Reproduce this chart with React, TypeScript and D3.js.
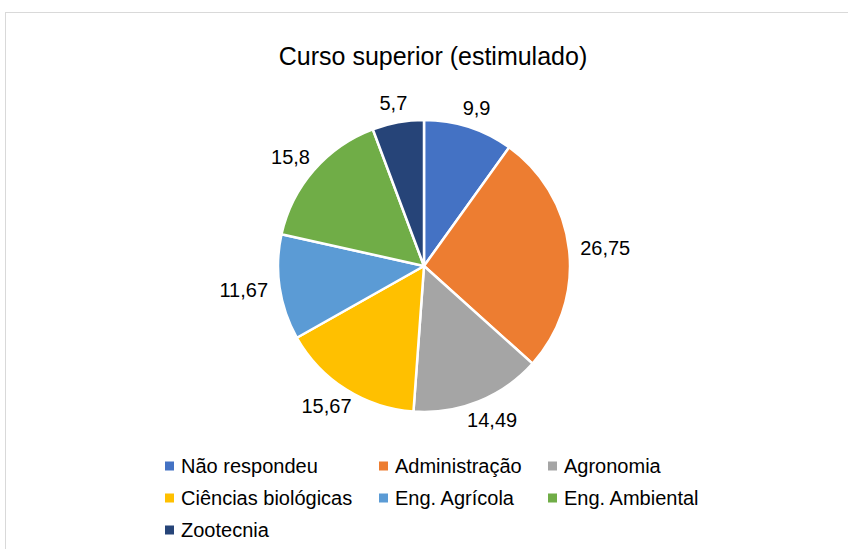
import { useEffect, useRef } from "react";
import * as d3 from "d3";

const categories = [
  "Não respondeu",
  "Administração",
  "Agronomia",
  "Ciências biológicas",
  "Eng. Agrícola",
  "Eng. Ambiental",
  "Zootecnia",
];
const values = [9.9, 26.75, 14.49, 15.67, 11.67, 15.8, 5.7];
const labels = ["9,9", "26,75", "14,49", "15,67", "11,67", "15,8", "5,7"];
const colors = ["#4472C4", "#ED7D31", "#A5A5A5", "#FFC000", "#5B9BD5", "#70AD47", "#264478"];

const W = 848;
const H = 549;
const FONT = "'Liberation Sans', Arial, sans-serif";

export default function App() {
  const svgRef = useRef<SVGSVGElement>(null);

  useEffect(() => {
    if (!svgRef.current) return;
    const svg = d3.select(svgRef.current);
    svg.selectAll("*").remove();

    // chart frame
    svg.append("rect")
      .attr("x", 5.5).attr("y", 12.5).attr("width", W + 20).attr("height", H + 20)
      .attr("fill", "#fff").attr("stroke", "#d9d9d9").attr("stroke-width", 1);

    svg.append("text")
      .attr("x", 433).attr("y", 65)
      .attr("text-anchor", "middle")
      .attr("font-family", FONT).attr("font-size", 25).attr("fill", "#000")
      .text("Curso superior (estimulado)");

    const cx = 424, cy = 266, r = 146;
    const pie = d3.pie<number>().sort(null).value((d) => d);
    const arcs = pie(values);
    const arc = d3.arc<d3.PieArcDatum<number>>().innerRadius(0).outerRadius(r);

    const g = svg.append("g").attr("transform", `translate(${cx},${cy})`);
    g.selectAll("path")
      .data(arcs)
      .join("path")
      .attr("d", arc)
      .attr("fill", (_, i) => colors[i])
      .attr("stroke", "#fff")
      .attr("stroke-width", 2.5)
      .attr("stroke-linejoin", "round");

    // outside-end labels
    const fs = 20;
    const lbl = g.append("g").attr("font-family", FONT).attr("font-size", fs).attr("fill", "#000");
    arcs.forEach((a, i) => {
      const ang = (a.startAngle + a.endAngle) / 2;
      const sx = Math.sin(ang), cy2 = -Math.cos(ang);
      const w = labels[i].length * 10.5;
      const rr = r + 10;
      const x = rr * sx + sx * w / 2;
      const y = rr * cy2 + cy2 * 10;
      lbl.append("text")
        .attr("x", x).attr("y", y)
        .attr("dy", "0.35em")
        .attr("text-anchor", "middle")
        .text(labels[i]);
    });

    // legend
    const colX = [165, 379, 548];
    const rowY = [466, 498, 530];
    const lg = svg.append("g").attr("font-family", FONT).attr("font-size", 20).attr("fill", "#000");
    categories.forEach((c, i) => {
      const x = colX[i % 3];
      const y = rowY[Math.floor(i / 3)];
      lg.append("rect").attr("x", x).attr("y", y - 4.5).attr("width", 9).attr("height", 9).attr("fill", colors[i]);
      lg.append("text").attr("x", x + 16).attr("y", y).attr("dy", "0.36em").text(c);
    });
  }, []);

  return (
    <svg
      ref={svgRef}
      width={W}
      height={H}
      style={{ position: "absolute", left: 0, top: 0, background: "#fff" }}
    />
  );
}
